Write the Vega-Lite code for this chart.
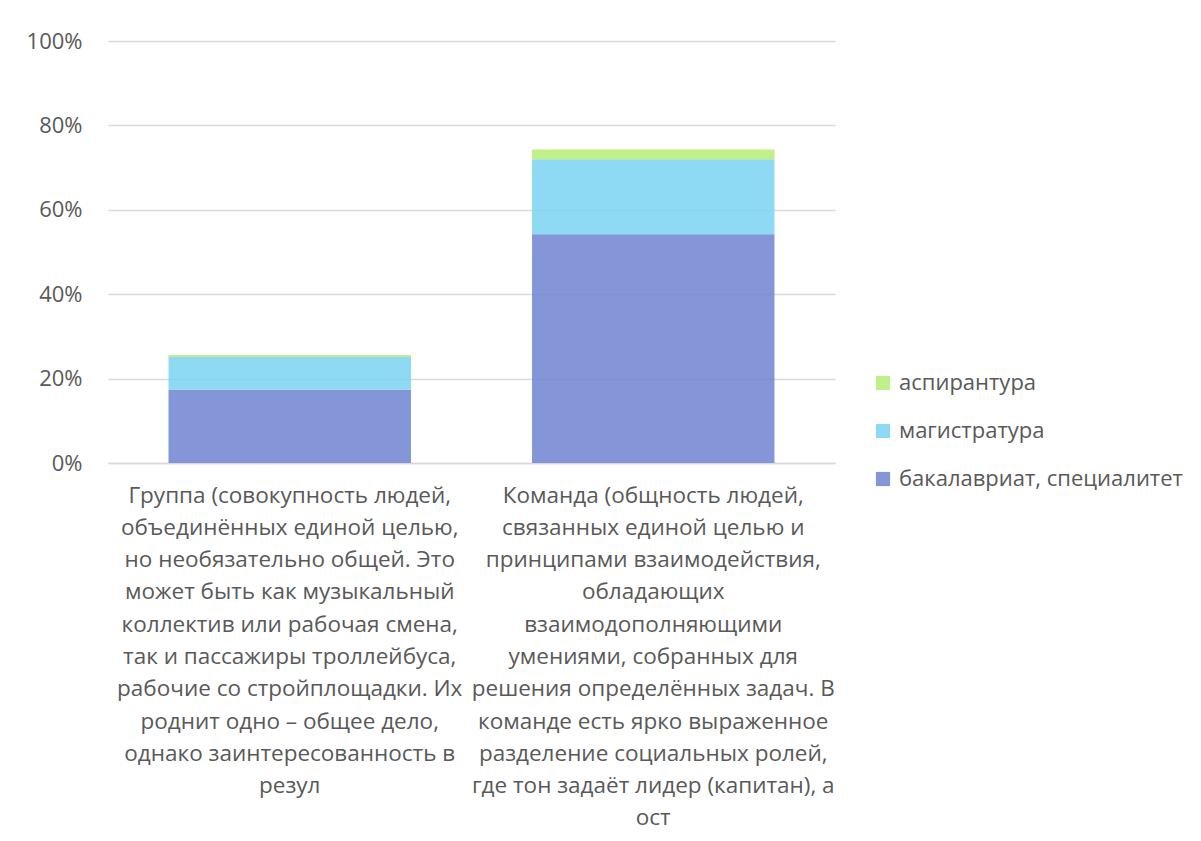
{
  "$schema": "https://vega.github.io/schema/vega-lite/v6.json",
  "autosize": {"type": "none"},
  "padding": {"left": 108, "top": 41, "right": 366, "bottom": 378},
  "width": 727,
  "height": 422,
  "background": "white",
  "data": {"values": [
    {"category": "Группа (совокупность людей,|объединённых единой целью,|но необязательно общей. Это|может быть как музыкальный|коллектив или рабочая смена,|так и пассажиры троллейбуса,|рабочие со стройплощадки. Их|роднит одно – общее дело,|однако заинтересованность в|резул", "level": "бакалавриат, специалитет", "rank": 1, "share": 0.1735},
    {"category": "Группа (совокупность людей,|объединённых единой целью,|но необязательно общей. Это|может быть как музыкальный|коллектив или рабочая смена,|так и пассажиры троллейбуса,|рабочие со стройплощадки. Их|роднит одно – общее дело,|однако заинтересованность в|резул", "level": "магистратура", "rank": 2, "share": 0.0775},
    {"category": "Группа (совокупность людей,|объединённых единой целью,|но необязательно общей. Это|может быть как музыкальный|коллектив или рабочая смена,|так и пассажиры троллейбуса,|рабочие со стройплощадки. Их|роднит одно – общее дело,|однако заинтересованность в|резул", "level": "аспирантура", "rank": 3, "share": 0.005},
    {"category": "Команда (общность людей,|связанных единой целью и|принципами взаимодействия,|обладающих|взаимодополняющими|умениями, собранных для|решения определённых задач. В|команде есть ярко выраженное|разделение социальных ролей,|где тон задаёт лидер (капитан), а|ост", "level": "бакалавриат, специалитет", "rank": 1, "share": 0.542},
    {"category": "Команда (общность людей,|связанных единой целью и|принципами взаимодействия,|обладающих|взаимодополняющими|умениями, собранных для|решения определённых задач. В|команде есть ярко выраженное|разделение социальных ролей,|где тон задаёт лидер (капитан), а|ост", "level": "магистратура", "rank": 2, "share": 0.1775},
    {"category": "Команда (общность людей,|связанных единой целью и|принципами взаимодействия,|обладающих|взаимодополняющими|умениями, собранных для|решения определённых задач. В|команде есть ярко выраженное|разделение социальных ролей,|где тон задаёт лидер (капитан), а|ост", "level": "аспирантура", "rank": 3, "share": 0.0235}
  ]},
  "mark": {"type": "bar", "opacity": 0.85},
  "encoding": {
    "x": {
      "field": "category", "type": "nominal", "sort": null,
      "scale": {"paddingInner": 0.333, "paddingOuter": 0.1665},
      "axis": {
        "title": null, "labelAngle": 0, "labelExpr": "split(datum.label, '|')",
        "labelLimit": 1000, "labelFont": "Open Sans", "labelFontSize": 22.5,
        "labelColor": "#595959", "labelLineHeight": 32.3, "labelPadding": 21,
        "labelBaseline": "top", "labelOverlap": false,
        "ticks": false, "domainColor": "#D9D9D9", "domainWidth": 1.5, "grid": false
      }
    },
    "y": {
      "field": "share", "type": "quantitative", "stack": "zero",
      "scale": {"domain": [0, 1]},
      "axis": {
        "title": null, "format": ".0%", "values": [0, 0.2, 0.4, 0.6, 0.8, 1],
        "labelFont": "Open Sans", "labelFontSize": 22, "labelColor": "#595959",
        "labelPadding": 26, "ticks": false, "domain": false,
        "gridColor": "#D9D9D9", "gridWidth": 1.5
      }
    },
    "color": {
      "field": "level", "type": "nominal",
      "scale": {
        "domain": ["аспирантура", "магистратура", "бакалавриат, специалитет"],
        "range": ["#B7ED73", "#7AD4F2", "#6E83D1"]
      },
      "legend": {
        "title": null, "orient": "none", "legendX": 764, "legendY": 331,
        "symbolType": "square", "symbolSize": 200, "symbolOpacity": 0.85,
        "labelFont": "Open Sans", "labelFontSize": 22, "labelColor": "#595959",
        "labelLimit": 400, "rowPadding": 26, "labelOffset": 5
      }
    },
    "order": {"field": "rank", "type": "quantitative", "sort": "ascending"}
  },
  "config": {"view": {"stroke": null}}
}
